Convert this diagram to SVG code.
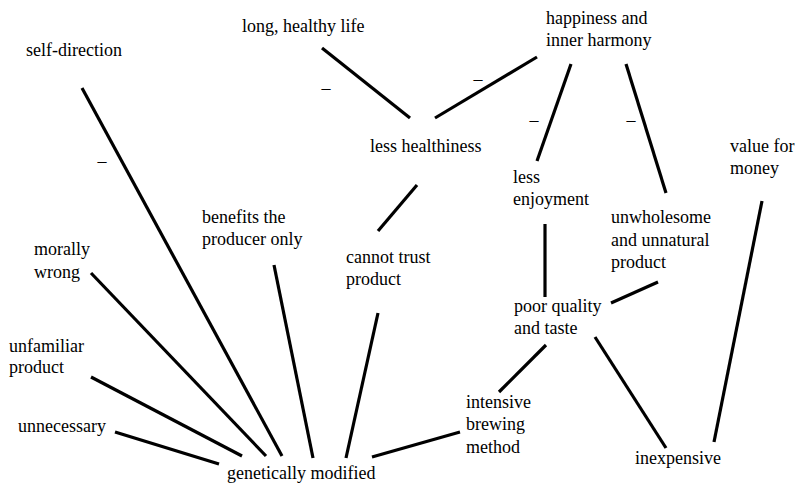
<svg xmlns="http://www.w3.org/2000/svg" width="799" height="484" viewBox="0 0 799 484">
<style>
.d{text-anchor:middle}
.c line{stroke:#000;stroke-width:3.2}
</style>
<rect width="799" height="484" fill="#fff"/>
<g id="connectors" class="c">
<line x1="82" y1="88" x2="282" y2="456"/>
<line x1="322" y1="48" x2="410" y2="118"/>
<line x1="537" y1="57" x2="435" y2="118"/>
<line x1="571" y1="64" x2="537" y2="161"/>
<line x1="626" y1="64" x2="666" y2="193"/>
<line x1="417" y1="185" x2="378" y2="231"/>
<line x1="91" y1="273" x2="266" y2="456"/>
<line x1="274" y1="265" x2="313" y2="458"/>
<line x1="378" y1="313" x2="346" y2="458"/>
<line x1="91" y1="377" x2="242" y2="456"/>
<line x1="115" y1="432" x2="219" y2="464"/>
<line x1="372" y1="457" x2="460" y2="432"/>
<line x1="545" y1="224" x2="545" y2="297"/>
<line x1="611" y1="303" x2="658" y2="282"/>
<line x1="546" y1="345" x2="499" y2="392"/>
<line x1="595" y1="337" x2="666" y2="448"/>
<line x1="762" y1="201" x2="714" y2="442"/>
<text class="d" x="326" y="94" font-family="Liberation Serif, serif" font-size="18">&#8211;</text>
<text class="d" x="102" y="167" font-family="Liberation Serif, serif" font-size="18">&#8211;</text>
<text class="d" x="478" y="85" font-family="Liberation Serif, serif" font-size="18">&#8211;</text>
<text class="d" x="534" y="126" font-family="Liberation Serif, serif" font-size="18">&#8211;</text>
<text class="d" x="631" y="126" font-family="Liberation Serif, serif" font-size="18">&#8211;</text>
</g>
<g id="self-direction"><text x="26" y="56" font-family="Liberation Serif, serif" font-size="18">self-direction</text></g>
<g id="long-healthy-life"><text x="242" y="32" font-family="Liberation Serif, serif" font-size="18">long, healthy life</text></g>
<g id="happiness"><text x="546" y="24" font-family="Liberation Serif, serif" font-size="18">happiness and</text><text x="546" y="46" font-family="Liberation Serif, serif" font-size="18">inner harmony</text></g>
<g id="less-healthiness"><text x="370" y="152" font-family="Liberation Serif, serif" font-size="18">less healthiness</text></g>
<g id="value-for-money"><text x="730" y="152" font-family="Liberation Serif, serif" font-size="18">value for</text><text x="730" y="174" font-family="Liberation Serif, serif" font-size="18">money</text></g>
<g id="less-enjoyment"><text x="513" y="183" font-family="Liberation Serif, serif" font-size="18">less</text><text x="513" y="205" font-family="Liberation Serif, serif" font-size="18">enjoyment</text></g>
<g id="unwholesome"><text x="611" y="223" font-family="Liberation Serif, serif" font-size="18">unwholesome</text><text x="611" y="246" font-family="Liberation Serif, serif" font-size="18">and unnatural</text><text x="611" y="268" font-family="Liberation Serif, serif" font-size="18">product</text></g>
<g id="benefits"><text x="202" y="223" font-family="Liberation Serif, serif" font-size="18">benefits the</text><text x="202" y="245" font-family="Liberation Serif, serif" font-size="18">producer only</text></g>
<g id="morally-wrong"><text x="34" y="255" font-family="Liberation Serif, serif" font-size="18">morally</text><text x="34" y="278" font-family="Liberation Serif, serif" font-size="18">wrong</text></g>
<g id="cannot-trust"><text x="346" y="263" font-family="Liberation Serif, serif" font-size="18">cannot trust</text><text x="346" y="285" font-family="Liberation Serif, serif" font-size="18">product</text></g>
<g id="poor-quality"><text x="514" y="312" font-family="Liberation Serif, serif" font-size="18">poor quality</text><text x="514" y="334" font-family="Liberation Serif, serif" font-size="18">and taste</text></g>
<g id="unfamiliar"><text x="9" y="352" font-family="Liberation Serif, serif" font-size="18">unfamiliar</text><text x="9" y="373" font-family="Liberation Serif, serif" font-size="18">product</text></g>
<g id="intensive"><text x="466" y="408" font-family="Liberation Serif, serif" font-size="18">intensive</text><text x="466" y="430" font-family="Liberation Serif, serif" font-size="18">brewing</text><text x="466" y="453" font-family="Liberation Serif, serif" font-size="18">method</text></g>
<g id="unnecessary"><text x="18" y="432" font-family="Liberation Serif, serif" font-size="18">unnecessary</text></g>
<g id="inexpensive"><text x="635" y="464" font-family="Liberation Serif, serif" font-size="18">inexpensive</text></g>
<g id="genetically-modified"><text x="227" y="479" font-family="Liberation Serif, serif" font-size="18">genetically modified</text></g>
</svg>
